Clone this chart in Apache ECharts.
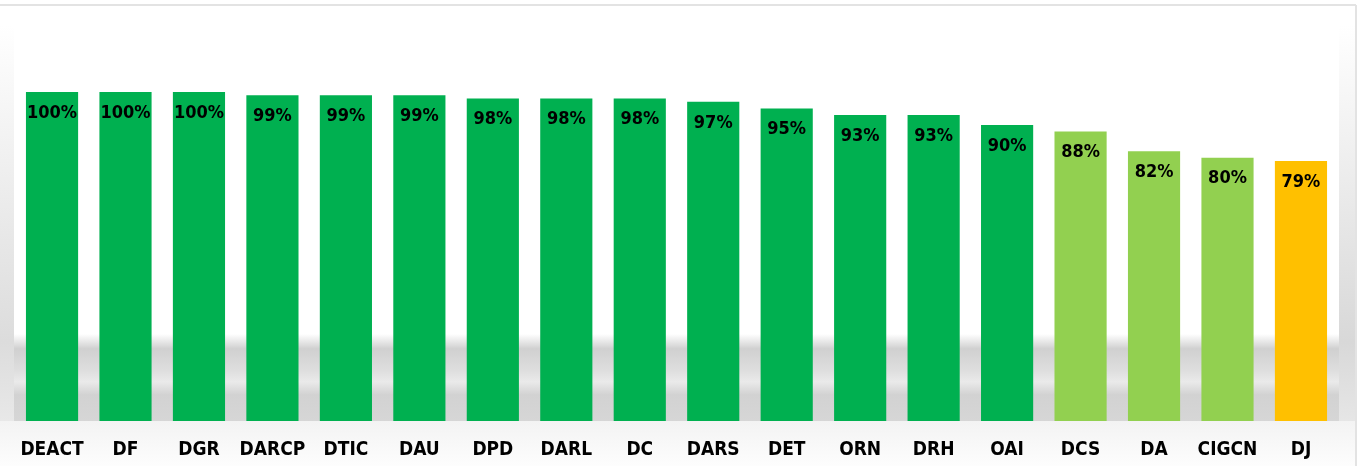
<!DOCTYPE html>
<html><head><meta charset="utf-8">
<script src="https://cdn.jsdelivr.net/npm/echarts@6/dist/echarts.min.js"></script>
<style>html,body{margin:0;padding:0;background:#fff}#c{width:1359px;height:466px}</style>
</head><body><div id="c"></div>
<script>
var categories = ['DEACT','DF','DGR','DARCP','DTIC','DAU','DPD','DARL','DC','DARS','DET','ORN','DRH','OAI','DCS','DA','CIGCN','DJ'];
var values = [100,100,100,99,99,99,98,98,98,97,95,93,93,90,88,82,80,79];
var barColors = ['#00B050','#00B050','#00B050','#00B050','#00B050','#00B050','#00B050','#00B050','#00B050','#00B050','#00B050','#00B050','#00B050','#00B050','#92D050','#92D050','#92D050','#FFC000'];

var chart = echarts.init(document.getElementById('c'));
function lg(x0,y0,x1,y1,stops){return new echarts.graphic.LinearGradient(x0,y0,x1,y1,stops.map(function(s){return {offset:s[0],color:s[1]};}));}
chart.setOption({
  backgroundColor:'#ffffff',
  animation:false,
  graphic:[
    {type:'rect',z:-10,shape:{x:0,y:25,width:14,height:396},style:{fill:lg(0,0,0,1,[[0,'#ffffff'],[0.8,'#dcdcdc'],[1,'#e8e8e8']])},silent:true},
    {type:'rect',z:-10,shape:{x:1339,y:25,width:17,height:396},style:{fill:lg(0,0,0,1,[[0,'#ffffff'],[0.8,'#d8d8d8'],[1,'#e6e6e6']])},silent:true},
    {type:'rect',z:-10,shape:{x:0,y:421,width:1356,height:45},style:{fill:lg(0,0,0,1,[[0,'#f3f3f3'],[1,'#fdfdfd']])},silent:true},
    {type:'rect',z:-9,shape:{x:14,y:334,width:1325,height:87},style:{fill:lg(0,0,0,1,[[0,'rgba(210,210,210,0)'],[0.17,'#d0d0d0'],[0.42,'#dedede'],[0.55,'#eaeaea'],[0.7,'#d2d2d2'],[1,'#d6d6d6']])},silent:true},
    {type:'line',z:-8,shape:{x1:0,y1:5,x2:1356,y2:5},style:{stroke:'#e3e3e3',lineWidth:2},silent:true},
    {type:'line',z:-8,shape:{x1:1356,y1:5,x2:1356,y2:466},style:{stroke:'#e3e3e3',lineWidth:2},silent:true}
  ],
  grid:{left:15.3,right:21.3,top:92,bottom:45,containLabel:false},
  xAxis:{type:'category',data:categories,
    axisLine:{show:false},axisTick:{show:false},
    axisLabel:{interval:0,margin:20,color:'#000',fontFamily:'DejaVu Sans Condensed',fontWeight:'bold',fontSize:19}},
  yAxis:{type:'value',min:0,max:100,show:false,splitLine:{show:false}},
  series:[{type:'bar',data:values.map(function(v,i){return {value:v,itemStyle:{color:barColors[i]}};}),
    barCategoryGap:'29%',
    label:{show:true,position:'insideTop',distance:12,formatter:'{c}%',color:'#000',
      fontFamily:'DejaVu Sans Condensed',fontSize:18,fontWeight:'bold'}}]
});
</script></body></html>
